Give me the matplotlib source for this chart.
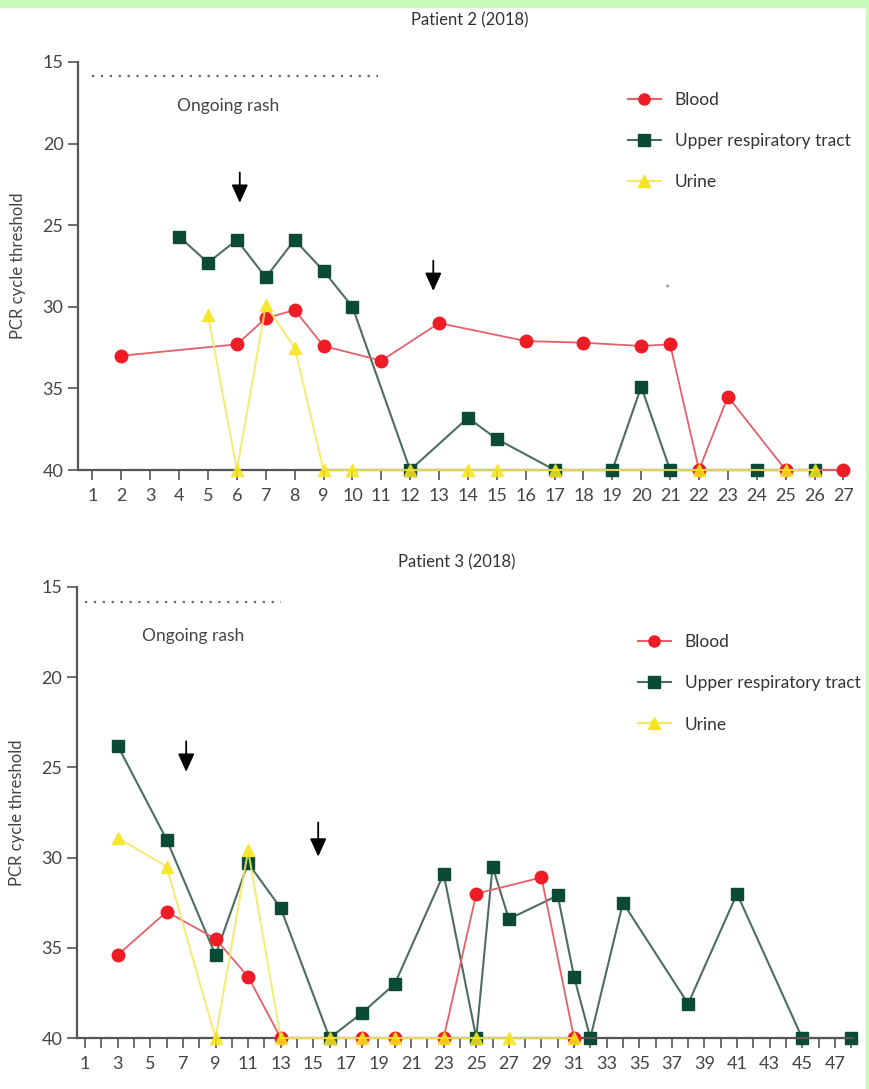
import matplotlib.pyplot as plt
from matplotlib.patches import Rectangle
from matplotlib.lines import Line2D

plt.rcParams["font.family"] = ["Lato", "DejaVu Sans"]

# Patient 2 (2018)
p2_blood_x = [2, 6, 7, 8, 9, 11, 13, 16, 18, 20, 21, 22, 23, 25, 27]
p2_blood_y = [33.0, 32.3, 30.7, 30.2, 32.4, 33.3, 31.0, 32.1, 32.2, 32.4, 32.3, 40, 35.5, 40, 40]
p2_urt_x = [4, 5, 6, 7, 8, 9, 10, 12, 14, 15, 17, 19, 20, 21, 24, 26]
p2_urt_y = [25.7, 27.3, 25.9, 28.2, 25.9, 27.8, 30.0, 40, 36.8, 38.1, 40, 40, 34.9, 40, 40, 40]
p2_urine_x = [5, 6, 7, 8, 9, 10, 12, 14, 15, 17, 22, 25, 26]
p2_urine_y = [30.5, 40, 29.9, 32.5, 40, 40, 40, 40, 40, 40, 40, 40, 40]
p2_arrows = [(6.1, 21.6, 23.8), (12.8, 27.0, 29.2)]

# Patient 3 (2018)
p3_blood_x = [3, 6, 9, 11, 13, 18, 20, 23, 25, 29, 31]
p3_blood_y = [35.4, 33.0, 34.5, 36.6, 40, 40, 40, 40, 32.0, 31.1, 40]
p3_urt_x = [3, 6, 9, 11, 13, 16, 18, 20, 23, 25, 26, 27, 30, 31, 32, 34, 38, 41, 45, 48]
p3_urt_y = [23.8, 29.0, 35.4, 30.3, 32.8, 40, 38.6, 37.0, 30.9, 40, 30.5, 33.4, 32.1, 36.6, 40, 32.5, 38.1, 32.0, 40, 40]
p3_urine_x = [3, 6, 9, 11, 13, 16, 18, 20, 23, 25, 27, 31]
p3_urine_y = [28.9, 30.5, 40, 29.6, 40, 40, 40, 40, 40, 40, 40, 40]
p3_arrows = [(7.2, 23.4, 25.4), (15.3, 27.9, 30.1)]

RED, RED_LINE = "#ee1c25", "#e4606a"
GREEN, GREEN_LINE = "#0b4a36", "#4d6d63"
YELLOW, YELLOW_LINE = "#f7e41a", "#f6e860"
GREY = "#555555"
TEXT = "#444444"


def draw_panel(ax, blood, urt, urine, arrows, xmax, rash_end, rash_text_x, odd_labels):
    ax.plot(*blood, color=RED_LINE, lw=1.3, marker="o", ms=9, mfc=RED, mec=RED, zorder=3)
    ax.plot(*urt, color=GREEN_LINE, lw=1.5, marker="s", ms=8.5, mfc=GREEN, mec=GREEN, zorder=2)
    ax.plot(*urine, color=YELLOW_LINE, lw=1.5, marker="^", ms=9, mfc=YELLOW, mec=YELLOW,
            alpha=0.85, zorder=4)

    ax.plot([1, rash_end], [15.85, 15.85], color="#666666", ls=(0, (1, 3)), lw=1.6)
    ax.text(rash_text_x, 17.7, "Ongoing rash", ha="center", va="center", fontsize=12.5, color=TEXT)

    for x, y0, y1 in arrows:
        ax.annotate("", xy=(x, y1), xytext=(x, y0),
                    arrowprops=dict(arrowstyle="-|>,head_width=0.5,head_length=1.1",
                                    color="black", lw=1.3))

    ax.set_xlim(0.5, xmax)
    ax.set_ylim(40, 15)
    ax.set_yticks([15, 20, 25, 30, 35, 40])
    ticks = list(range(1, int(xmax) + 1))
    ax.set_xticks(ticks)
    if odd_labels:
        ax.set_xticklabels([str(t) if t % 2 == 1 else "" for t in ticks])
    else:
        ax.set_xticklabels([str(t) for t in ticks])
    ax.tick_params(axis="both", colors=GREY, labelsize=13, length=7, width=1.2, labelcolor=TEXT)
    ax.tick_params(axis="x", pad=6)
    for side in ("top", "right"):
        ax.spines[side].set_visible(False)
    for side in ("left", "bottom"):
        ax.spines[side].set_color(GREY)
        ax.spines[side].set_linewidth(1.6)
    ax.spines["bottom"].set_bounds(0.5, xmax - 0.2)
    ax.set_ylabel("PCR cycle threshold", fontsize=12, color=TEXT, labelpad=12)
    for line in ax.lines:
        line.set_clip_on(False)

    handles = [
        Line2D([], [], color=RED_LINE, marker="o", ms=8, mfc=RED, mec=RED),
        Line2D([], [], color=GREEN_LINE, marker="s", ms=8, mfc=GREEN, mec=GREEN),
        Line2D([], [], color=YELLOW_LINE, marker="^", ms=8, mfc=YELLOW, mec=YELLOW),
    ]
    return handles


fig = plt.figure(figsize=(8.7, 10.89), dpi=100)
fig.patch.set_facecolor("white")
fig.add_artist(Rectangle((0, 1 - 7 / 1089), 1, 7 / 1089, transform=fig.transFigure,
                         color="#c6fcb8", zorder=0))
fig.add_artist(Rectangle((1 - 4 / 870, 0), 4 / 870, 1, transform=fig.transFigure,
                         color="#c6fcb8", zorder=0))

ax1 = fig.add_axes([0.0897, 0.5684, 0.8897, 0.3747])
ax2 = fig.add_axes([0.0885, 0.0468, 0.8954, 0.4142])

labels = ["Blood", "Upper respiratory tract", "Urine"]

h1 = draw_panel(ax1, (p2_blood_x, p2_blood_y), (p2_urt_x, p2_urt_y),
                (p2_urine_x, p2_urine_y), p2_arrows, 27.3, 10.9, 5.7, False)
ax1.text(20.9, 29.0, "*", fontsize=9, color="#777777", ha="center", va="center")
ax1.legend(h1, labels, loc="upper left", bbox_to_anchor=(0.69, 0.965), frameon=False,
           fontsize=12.5, handlelength=1.9, labelspacing=1.45, labelcolor="#333333")
fig.text(470 / 870, 1 - 20 / 1089, "Patient 2 (2018)", ha="center", va="center",
         fontsize=12, color="#333333")

h2 = draw_panel(ax2, (p3_blood_x, p3_blood_y), (p3_urt_x, p3_urt_y),
                (p3_urine_x, p3_urine_y), p3_arrows, 48.3, 13.0, 7.6, True)
ax2.legend(h2, labels, loc="upper left", bbox_to_anchor=(0.70, 0.93), frameon=False,
           fontsize=12.5, handlelength=1.9, labelspacing=1.45, labelcolor="#333333")
fig.text(457 / 870, 1 - 562 / 1089, "Patient 3 (2018)", ha="center", va="center",
         fontsize=12, color="#333333")

fig.savefig("out.png", dpi=100)
